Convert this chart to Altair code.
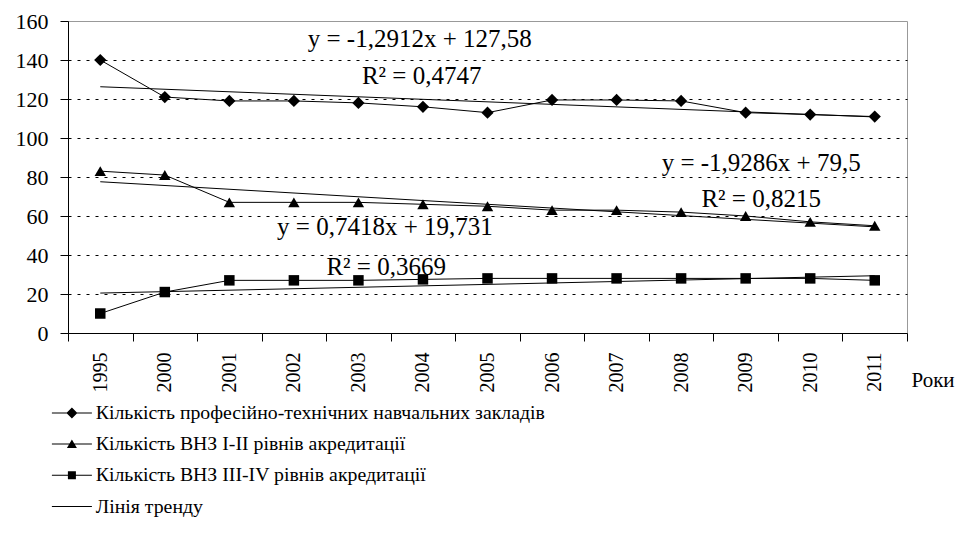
import altair as alt
import pandas as pd

years = ["1995", "2000", "2001", "2002", "2003", "2004", "2005",
         "2006", "2007", "2008", "2009", "2010", "2011"]
series_names = [
    "Кількість професійно-технічних навчальних закладів",
    "Кількість ВНЗ I-II рівнів акредитації",
    "Кількість ВНЗ III-IV рівнів акредитації",
]
trend_name = "Лінія тренду"
prof = [140, 121, 119, 119, 118, 116, 113, 119.5, 119.5, 119, 113, 112, 111]
vnz12 = [83, 81, 67, 67, 67, 66, 65, 63, 63, 62, 60, 57, 55]
vnz34 = [10, 21, 27, 27, 27, 27.5, 28, 28, 28, 28, 28, 28, 27]

# trend line coefficients as printed on the chart
slopes = [-1.2912, -1.9286, 0.7418]
intercepts = [127.58, 79.5, 19.731]

eq_texts = ["y = -1,2912x + 127,58", "R² = 0,4747",
            "y = -1,9286x + 79,5", "R² = 0,8215",
            "y = 0,7418x + 19,731", "R² = 0,3669"]
eq_x = [5.95, 5.98, 11.24, 11.24, 5.41, 5.43]
eq_y = [150.8, 131.8, 87.2, 68.7, 54.4, 33.8]

FONT = "'Liberation Serif', 'Times New Roman', serif"

rows = []
for name, vals in zip(series_names, [prof, vnz12, vnz34]):
    for i, v in enumerate(vals):
        rows.append({"series": name, "idx": i + 1, "value": v})
df = pd.DataFrame(rows)

trend_rows = []
for name, s, b in zip(series_names, slopes, intercepts):
    for i in [1, len(years)]:
        trend_rows.append({"series": name, "idx": i, "slope": s, "icpt": b})
tdf = pd.DataFrame(trend_rows)

ann = pd.DataFrame({"text": eq_texts, "idx": eq_x, "value": eq_y})
leg = pd.DataFrame({"item": series_names + [trend_name]})

n = len(years)
xscale = alt.Scale(domain=[0.5, n + 0.5], nice=False, zero=False)
yscale = alt.Scale(domain=[0, 160], nice=False)

label_arr = "[" + ",".join("'" + y + "'" for y in years) + ",'']"
band_px = 839 / n

x_axis = alt.Axis(
    values=[i + 0.5 for i in range(n + 1)],
    labelExpr=label_arr + "[round(datum.value - 0.5)]",
    labelOffset=band_px / 2,
    ticks=True, tickSize=8, tickColor="black", grid=False,
    domain=True, domainColor="black", domainWidth=1,
    labelAngle=270, labelAlign="right", labelBaseline="middle", labelPadding=11,
    labelFont=FONT, labelFontSize=20, labelColor="black", labelOverlap=False,
    labelBound=False, labelFlush=False,
    title="Роки", titleFont=FONT, titleFontSize=21, titleFontWeight="normal",
    titleColor="black", titleX=843, titleY=47, titleAlign="left",
    titleBaseline="middle", titleAngle=0, orient="bottom")

y_axis = alt.Axis(
    values=list(range(0, 161, 20)), tickCount=9, domain=True, domainColor="black",
    ticks=True, tickSize=8, tickColor="black", labelPadding=12,
    labelFont=FONT, labelFontSize=22, labelColor="black", title=None,
    labelOverlap=False, labelFlush=False,
    grid=True, gridColor="black", gridDash=[3, 6], gridWidth=1,
    gridOpacity={"condition": {"test": "datum.value == 0 || datum.value == 160", "value": 0}, "value": 1})


def X():
    return alt.X("idx:Q", scale=xscale, axis=x_axis)


def Y(field="value"):
    return alt.Y(field + ":Q", scale=yscale, axis=y_axis)


lines = alt.Chart(df).mark_line(color="black", strokeWidth=1).encode(
    x=X(), y=Y(), detail="series:N")

points = alt.Chart(df).mark_point(filled=True, color="black", opacity=1, strokeWidth=0).encode(
    x=X(), y=Y(),
    shape=alt.Shape("series:N", scale=alt.Scale(domain=series_names,
                    range=["diamond", "triangle-up", "square"]), legend=None),
    size=alt.Size("series:N", scale=alt.Scale(domain=series_names, range=[150, 110, 85]), legend=None))

trend = alt.Chart(tdf).transform_calculate(
    value="datum.slope * datum.idx + datum.icpt"
).mark_line(color="black", strokeWidth=1).encode(
    x=X(), y=Y(), detail="series:N")

texts = alt.Chart(ann).mark_text(font=FONT, fontSize=25, color="black",
                                  align="center", baseline="middle").encode(
    x=X(), y=Y(), text="text:N")

# legend symbols: a thin filled bar (the line) plus the marker, all clockwise
leg_paths = [
    "M-2,-0.1H6V0.1H-2ZM2,-1.1L3.1,0L2,1.1L0.9,0Z",
    "M-2,-0.1H6V0.1H-2ZM2,-0.9L3,0.8L1,0.8Z",
    "M-2,-0.1H6V0.1H-2ZM1.2,-0.8H2.8V0.8H1.2Z",
    "M-2,-0.1H6V0.1H-2Z",
]
legend_layer = alt.Chart(leg).mark_point(opacity=0, filled=True, color="black").encode(
    x=alt.value(0), y=alt.value(0),
    shape=alt.Shape("item:N", scale=alt.Scale(domain=series_names + [trend_name], range=leg_paths),
                    legend=alt.Legend(orient="none", legendX=-16, legendY=382, title=None,
                                      symbolSize=100, symbolFillColor="black",
                                      symbolOpacity=1, labelFont=FONT, labelFontSize=19.8,
                                      labelColor="black", labelOffset=24, rowPadding=10.2,
                                      labelLimit=800)))

chart = alt.layer(lines, trend, points, texts, legend_layer).resolve_scale(
    shape="independent", size="independent"
).properties(
    width=839, height=312,
    autosize=alt.AutoSizeParams(type="none"),
    padding={"left": 60, "top": 13, "right": 49, "bottom": 200},
).configure(background="white", font=FONT
).configure_view(stroke="#999999", strokeWidth=1
).configure_axis(labelFont=FONT, titleFont=FONT
).configure_legend(labelFont=FONT, titleFont=FONT
).configure_text(font=FONT)

chart.save("out.html", embed_options={"renderer": "svg", "actions": False})
